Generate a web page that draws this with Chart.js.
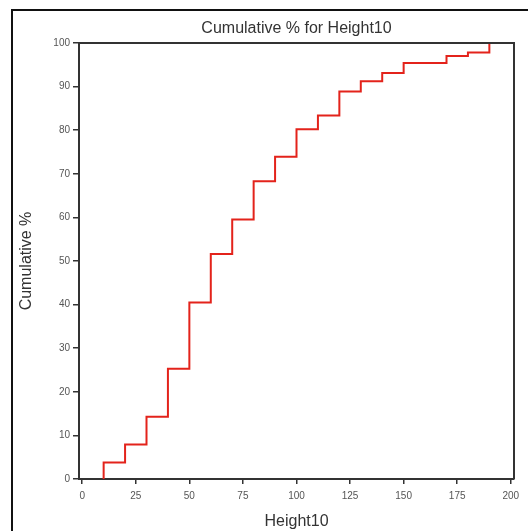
<!DOCTYPE html>
<html>
<head>
<meta charset="utf-8">
<script src="https://cdn.jsdelivr.net/npm/chart.js@4/dist/chart.umd.min.js"></script>
<style>
  html, body { margin: 0; padding: 0; background: #ffffff; }
  #wrap { position: relative; width: 528px; height: 531px; }
</style>
</head>
<body>
<div id="wrap"><canvas id="c" width="528" height="531"></canvas></div>
<script>
// Class edges (Height10) where the cumulative percentage steps up
const heights = [10, 10, 20, 30, 40, 50, 60, 70, 80, 90, 100, 110, 120, 130, 140, 150, 170, 180, 190];
// Cumulative % reached at each edge
const cumulative = [0, 3.8, 7.9, 14.3, 25.3, 40.5, 51.6, 59.5, 68.3, 73.9, 80.2, 83.4, 88.9, 91.2, 93.1, 95.4, 97.0, 97.8, 100];
const xTicks = [0, 25, 50, 75, 100, 125, 150, 175, 200];
const yTicks = [0, 10, 20, 30, 40, 50, 60, 70, 80, 90, 100];

const FONT = "'Liberation Sans', Arial, sans-serif";
const AXIS = '#333333';

// Frame around the whole figure and the closed box around the plot area
const framePlugin = {
  id: 'frame',
  afterDraw(chart) {
    const ctx = chart.ctx;
    const a = chart.chartArea;
    ctx.save();
    ctx.strokeStyle = AXIS;
    ctx.lineWidth = 2;
    ctx.beginPath();
    ctx.moveTo(a.left, a.top);
    ctx.lineTo(a.right, a.top);
    ctx.lineTo(a.right, a.bottom);
    ctx.stroke();
    ctx.strokeStyle = '#111111';
    ctx.lineWidth = 2;
    ctx.beginPath();
    ctx.moveTo(12, 531);
    ctx.lineTo(12, 10);
    ctx.lineTo(528, 10);
    ctx.stroke();
    ctx.restore();
  }
};

new Chart(document.getElementById('c'), {
  type: 'line',
  data: {
    datasets: [{
      data: heights.map((h, i) => ({ x: h, y: cumulative[i] })),
      stepped: 'before',
      borderColor: '#e3231b',
      borderWidth: 2,
      pointRadius: 0,
      fill: false,
      clip: false
    }]
  },
  options: {
    responsive: false,
    animation: false,
    layout: { padding: { left: 0, right: 14, top: 0, bottom: 0 } },
    plugins: {
      legend: { display: false },
      tooltip: { enabled: false },
      title: { display: false }
    },
    scales: {
      // top axis carries the chart title, centred over the plot area
      top: {
        type: 'linear',
        position: 'top',
        min: -1.5,
        max: 201.5,
        afterFit: s => { s.height = 43; },
        grid: { display: false },
        border: { display: false },
        ticks: { display: false },
        title: {
          display: true,
          text: 'Cumulative % for Height10',
          color: '#333333',
          font: { family: FONT, size: 16, lineHeight: 1.2 },
          padding: { top: 19, bottom: 0 }
        }
      },
      x: {
        type: 'linear',
        position: 'bottom',
        min: -1.5,
        max: 201.5,
        afterBuildTicks: s => { s.ticks = xTicks.map(v => ({ value: v })); },
        afterFit: s => { s.height = 52; },
        grid: { drawOnChartArea: false, drawTicks: true, tickLength: 5, color: AXIS, lineWidth: 1.5 },
        border: { display: true, color: AXIS, width: 2 },
        ticks: { color: '#555555', font: { family: FONT, size: 10 }, padding: 6, maxRotation: 0 },
        title: {
          display: true,
          text: 'Height10',
          color: '#333333',
          font: { family: FONT, size: 16, lineHeight: 1.2 },
          padding: { top: 0, bottom: 0 }
        }
      },
      y: {
        type: 'linear',
        min: 0,
        max: 100,
        afterBuildTicks: s => { s.ticks = yTicks.map(v => ({ value: v })); },
        afterFit: s => { s.width = 79; },
        grid: { drawOnChartArea: false, drawTicks: true, tickLength: 6, color: AXIS, lineWidth: 1.5 },
        border: { display: true, color: AXIS, width: 2 },
        ticks: { color: '#555555', font: { family: FONT, size: 10 }, padding: 3 },
        title: {
          display: true,
          text: 'Cumulative %',
          color: '#333333',
          font: { family: FONT, size: 16, lineHeight: 1.2 },
          padding: { top: 17, bottom: 0 }
        }
      }
    }
  },
  plugins: [framePlugin]
});
</script>
</body>
</html>
